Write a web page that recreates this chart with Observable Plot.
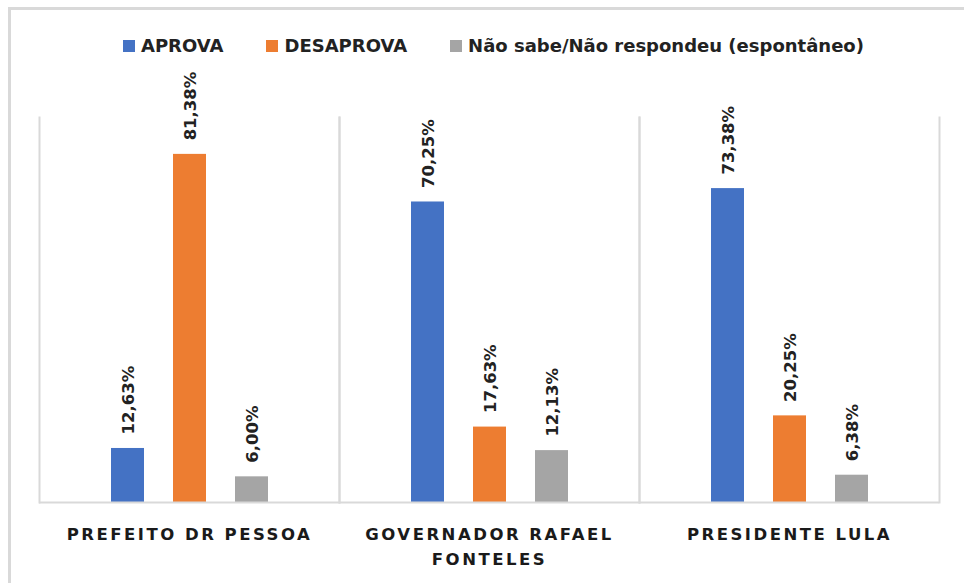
<!DOCTYPE html>
<html>
<head>
<meta charset="utf-8">
<script src="https://cdn.jsdelivr.net/npm/d3@7"></script>
<script src="https://cdn.jsdelivr.net/npm/@observablehq/plot@0.6"></script>
<style>
  html, body { margin: 0; padding: 0; background: #fff; width: 964px; height: 583px; overflow: hidden; }
  #page { position: relative; width: 964px; height: 583px; }
  #border { position: absolute; left: 8px; top: 7px; width: 1200px; height: 1200px;
            border-left: 3px solid #d9d9d9; border-top: 3px solid #d9d9d9; box-sizing: border-box; }
  #legend { position: relative; height: 60px; }
  #legend .row { position: absolute; left: 123px; top: 34px; height: 24px; display: flex; align-items: center;
                 font-family: "DejaVu Sans", sans-serif; font-weight: bold; font-size: 18px; line-height: 24px; color: #222; }
  #legend .item { display: flex; align-items: center; margin-right: 43px; }
  #legend .sw { width: 12px; height: 12px; margin-right: 6px; }
  #chart { position: relative; }
  .catlabel text { letter-spacing: 2.5px; }
</style>
</head>
<body>
<div id="page">
  <div id="border"></div>
  <div id="legend"><div class="row"></div></div>
  <div id="chart"></div>
</div>
<script>
const categories = ["PREFEITO DR PESSOA", "GOVERNADOR RAFAEL FONTELES", "PRESIDENTE LULA"];
const categoryLabels = ["PREFEITO DR PESSOA", "GOVERNADOR RAFAEL\nFONTELES", "PRESIDENTE LULA"];
const series = ["APROVA", "DESAPROVA", "Não sabe/Não respondeu (espontâneo)"];
const colors = ["#4472C4", "#ED7D31", "#A5A5A5"];
const aprova = [12.63, 70.25, 73.38];
const desaprova = [81.38, 17.63, 20.25];
const naoSabe = [6.00, 12.13, 6.38];

const values = [aprova, desaprova, naoSabe];
const data = [];
categories.forEach((c, i) => {
  series.forEach((s, j) => data.push({cat: c, series: s, value: values[j][i]}));
});
const fmt = v => v.toFixed(2).replace(".", ",") + "%";

// legend
const row = document.querySelector("#legend .row");
series.forEach((s, j) => {
  const it = document.createElement("div");
  it.className = "item";
  const sw = document.createElement("div");
  sw.className = "sw";
  sw.style.background = colors[j];
  const tx = document.createElement("span");
  tx.textContent = s;
  it.appendChild(sw); it.appendChild(tx);
  row.appendChild(it);
});

const labelMap = new Map(categories.map((c, i) => [c, categoryLabels[i]]));

const chart = Plot.plot({
  width: 964,
  height: 523,
  marginLeft: 38,
  marginRight: 24,
  marginTop: 57,
  marginBottom: 81,
  style: {fontFamily: "DejaVu Sans, sans-serif", overflow: "visible", background: "transparent"},
  fx: {domain: categories, padding: 0, axis: null},
  x: {domain: series, type: "band", paddingInner: 0.468, paddingOuter: 1.153, axis: null},
  y: {domain: [0, 90], axis: null},
  color: {domain: series, range: colors},
  marks: [
    Plot.frame({anchor: "left", stroke: "#d9d9d9", strokeWidth: 2}),
    Plot.frame({anchor: "right", stroke: "#d9d9d9", strokeWidth: 2}),
    Plot.barY(data, {fx: "cat", x: "series", y: "value", fill: "series"}),
    Plot.ruleY([0], {stroke: "#d9d9d9", strokeWidth: 2}),
    Plot.text(data, {fx: "cat", x: "series", y: "value", text: d => fmt(d.value),
      rotate: -90, textAnchor: "start", lineAnchor: "middle", dy: -14, dx: 1,
      fontSize: 16.5, fontWeight: "bold", fill: "#222"}),
    Plot.text(categories, {fx: d => d, text: d => labelMap.get(d), frameAnchor: "bottom",
      lineAnchor: "top", dy: 20, dx: 0, lineHeight: 1.5, fontSize: 16.5, fontWeight: "bold",
      fill: "#1a1a1a", className: "catlabel"})
  ]
});
document.getElementById("chart").appendChild(chart);
</script>
</body>
</html>
